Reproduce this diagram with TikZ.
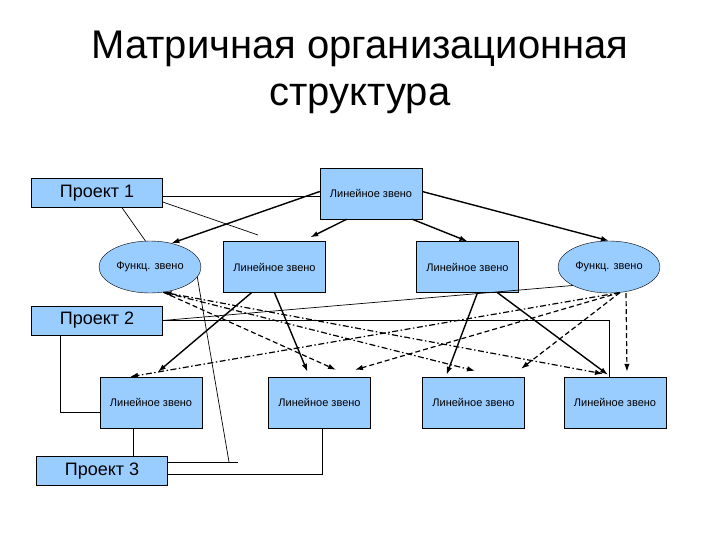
\documentclass[tikz,border=0pt]{standalone}
\usepackage{fontspec}
\setmainfont{Liberation Sans}
\usetikzlibrary{calc,arrows.meta,shapes.geometric}
\definecolor{boxblue}{RGB}{153,204,255}

\begin{document}
\begin{tikzpicture}[x=1pt,y=-1pt]
              \tikzset{
                unit/.style={draw, fill=boxblue, minimum width=102pt, minimum height=51pt,
                  inner sep=0pt, font=\fontsize{11}{13}\selectfont},
                func/.style={ellipse, draw, fill=boxblue, minimum width=102pt, minimum height=52pt,
                  inner sep=0pt, font=\fontsize{11}{13}\selectfont},
                proj/.style={draw, fill=boxblue, minimum width=131pt, minimum height=29pt,
                  inner sep=0pt, font=\fontsize{18}{21}\selectfont},
                link/.style={line width=0.7pt},
                lead/.style={-{Latex[length=8pt,width=5.5pt]}, line width=1.4pt},
                ctrl/.style={-{Latex[length=8pt,width=5.5pt]}, line width=1.2pt, dash pattern=on 5pt off 3pt},
                ctrldot/.style={-{Latex[length=8pt,width=5.5pt]}, line width=1.2pt,
                  dash pattern=on 6pt off 2.5pt on 1.5pt off 2.5pt}
              }
              \useasboundingbox (0,0) rectangle (720,540);
              \node (title) at (360,72) [align=center, font=\fontsize{40}{47}\selectfont]
                {Матричная организационная\\структура};
              % units
              \node[proj] (p1) at (97,193) {Проект 1};
              \node[unit] (l0) at (371,193.5) {Линейное звено};
              \node[func] (f1) at (150,267) {Функц. звено};
              \node[unit] (l1) at (274.5,267) {Линейное звено};
              \node[unit] (l2) at (467.5,267) {Линейное звено};
              \node[func] (f2) at (609,267) {Функц. звено};
              \node[proj] (p2) at (97,320.5) {Проект 2};
              \node[unit] (l3a) at (151,402.5) {Линейное звено};
              \node[unit] (l3b) at (319.5,402.5) {Линейное звено};
              \node[unit] (l3c) at (473.5,402.5) {Линейное звено};
              \node[unit] (l3d) at (615,402.5) {Линейное звено};
              \node[proj] (p3) at (102,471) {Проект 3};
              \coordinate (c1) at (258,235);
              \coordinate (c3) at (238,462);
              % project links
              \draw[link] ([yshift=-3pt]p1.east) -- ([yshift=-3pt]p1.east -| l0.west);
              \draw[link] ([yshift=-9pt]p1.east) -- (c1);
              \draw[link] ([xshift=25pt]p1.south) -- (f1.100);
              \draw[link] (p2.east) -- (f2.207);
              \draw[link] (p2.east) -| ([xshift=-6pt]l3d.north);
              \draw[link] ([xshift=-37pt]p2.south) |- ([yshift=-10pt]l3a.west);
              \draw[link] ([xshift=-18pt]l3a.south) -- ([xshift=-18pt]l3a.south |- p3.north);
              \draw[link] ([yshift=9pt]p3.east) -- (c3);
              \draw[link] ([xshift=-9pt]c3) -- (f1.-12);
              \draw[link] ([yshift=-3pt]p3.east) -| ([xshift=2.5pt]l3b.south);
              % line subordination
              \draw[lead] ([yshift=2pt]l0.west) -- (f1.48);
              \draw[lead] ([xshift=27pt]l0.south west) -- ([xshift=87pt,yshift=4pt]l1.north west);
              \draw[lead] ([xshift=-10pt]l0.south east) -- (l2.north);
              \draw[lead] ([yshift=2pt]l0.east) -- (f2.north);
              \draw[lead] ([xshift=-23pt]l1.south) -- ([xshift=7pt,yshift=5pt]l3a.north);
              \draw[lead] (l1.south) -- ([xshift=-12pt,yshift=5pt]l3b.north);
              \draw[lead] ([xshift=10pt]l2.south) -- ([xshift=-27pt,yshift=2pt]l3c.north);
              \draw[lead] ([xshift=30pt]l2.south) -- ([xshift=-7pt,yshift=2pt]l3d.north);
              % functional subordination
              \draw[ctrldot, {Latex[length=8pt,width=5.5pt]}-{Latex[length=8pt,width=5.5pt]}]
                (f1.-62) -- ([xshift=-12pt,yshift=3pt]l3d.north);
              \draw[ctrldot] (f1.-62) -- ([xshift=1.5pt,yshift=6pt]l3c.north);
              \draw[ctrl] (f1.-62) -- ([xshift=16.5pt,yshift=7pt]l3b.north);
              \draw[ctrldot] (f2.-67) -- ([xshift=-21pt]l3a.north);
              \draw[ctrl] (f2.-67) -- ([xshift=35.5pt,yshift=7pt]l3b.north);
              \draw[ctrl] (f2.-67) -- ([xshift=47.5pt,yshift=8pt]l3c.north);
              \draw[ctrl] ([xshift=17pt]f2.south) -- ([xshift=12pt,yshift=5pt]l3d.north);
            \end{tikzpicture}
\end{document}
